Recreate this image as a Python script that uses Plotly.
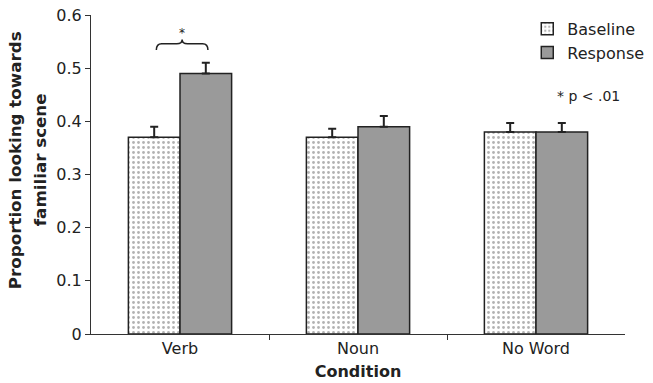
import plotly.graph_objects as go

categories = ["Verb", "Noun", "No Word"]
baseline = [0.37, 0.37, 0.38]
baseline_err = [0.02, 0.016, 0.017]
response = [0.49, 0.39, 0.38]
response_err = [0.02, 0.02, 0.017]
y_ticks = [0, 0.1, 0.2, 0.3, 0.4, 0.5, 0.6]

FONT = "DejaVu Sans"
INK = "#222"

xpos = list(range(len(categories)))
bargap = 0.42
half = (1 - bargap) / 2

fig = go.Figure()
fig.add_trace(go.Bar(
    name="Baseline", x=xpos, y=baseline,
    marker=dict(color="white", line=dict(color=INK, width=1.5),
                pattern=dict(shape=".", fgcolor="#666", bgcolor="white", size=5, solidity=0.25)),
    error_y=dict(type="data", symmetric=False, array=baseline_err, arrayminus=[0] * 3,
                 color=INK, thickness=2, width=4),
))
fig.add_trace(go.Bar(
    name="Response", x=xpos, y=response,
    marker=dict(color="#9a9a9a", line=dict(color=INK, width=1.5)),
    error_y=dict(type="data", symmetric=False, array=response_err, arrayminus=[0] * 3,
                 color=INK, thickness=2, width=4),
))

# significance brace over Verb (spanning the two bar centres)
x0 = xpos[0] - half / 2 + 0.012
x1 = xpos[0] + half / 2 + 0.012
xm = (x0 + x1) / 2
y_end, y_flat, y_tip = 0.534, 0.546, 0.554
d = 0.03
path = (f"M {x0},{y_end} Q {x0},{y_flat} {x0+d},{y_flat} L {xm-d},{y_flat} "
        f"Q {xm},{y_flat} {xm},{y_tip} Q {xm},{y_flat} {xm+d},{y_flat} "
        f"L {x1-d},{y_flat} Q {x1},{y_flat} {x1},{y_end}")
fig.add_shape(type="path", path=path, xref="x", yref="y",
              line=dict(color=INK, width=1.5))
fig.add_annotation(x=xm, y=0.566, text="*", showarrow=False, xref="x", yref="y",
                   xanchor="center", yanchor="middle",
                   font=dict(size=12, color=INK, family=FONT))
fig.add_annotation(x=0.931, y=0.746, xref="paper", yref="paper", text="* p < .01",
                   xanchor="center", yanchor="middle",
                   showarrow=False, font=dict(size=14, color=INK, family=FONT))

# y-axis title (two lines, placed as in the reference)
fig.add_annotation(x=0, y=0.545, xref="paper", yref="paper", xshift=-76,
                   xanchor="center", yanchor="middle",
                   text="<b>Proportion looking towards</b>", textangle=-90,
                   showarrow=False, font=dict(size=16.7, color=INK, family=FONT))
fig.add_annotation(x=0, y=0.545, xref="paper", yref="paper", xshift=-51,
                   xanchor="center", yanchor="middle",
                   text="<b>familiar scene</b>", textangle=-90,
                   showarrow=False, font=dict(size=16.7, color=INK, family=FONT))

fig.update_layout(
    width=653, height=383,
    margin=dict(l=91, r=28, t=15, b=49, autoexpand=False),
    paper_bgcolor="white", plot_bgcolor="white",
    barmode="group", bargap=bargap, bargroupgap=0,
    font=dict(family=FONT, size=16, color=INK),
    showlegend=True,
    legend=dict(x=0.817, y=0.969, xref="paper", yref="container",
                xanchor="left", yanchor="top",
                bgcolor="rgba(0,0,0,0)", font=dict(size=16), tracegroupgap=0),
    xaxis=dict(range=[-0.5, 2.5], tickvals=xpos, ticktext=categories, ticks="",
               showline=True, linecolor="#333", linewidth=1.2, showgrid=False,
               zeroline=False, tickfont=dict(size=16),
               minor=dict(tickvals=[0.5, 1.5], ticks="outside", ticklen=5,
                          tickcolor="#333", tickwidth=1.2, showgrid=False),
               title=dict(text="<b>Condition</b>", font=dict(size=16), standoff=8)),
    yaxis=dict(range=[0, 0.6], tickvals=y_ticks, ticks="outside", ticklen=5,
               tickcolor="#333", tickwidth=1.2, showline=True, linecolor="#333",
               linewidth=1.2, showgrid=False, zeroline=False, tickfont=dict(size=16)),
)
fig.write_html("out.html", config={"displayModeBar": False},
               post_script="document.body.style.margin='0';")
